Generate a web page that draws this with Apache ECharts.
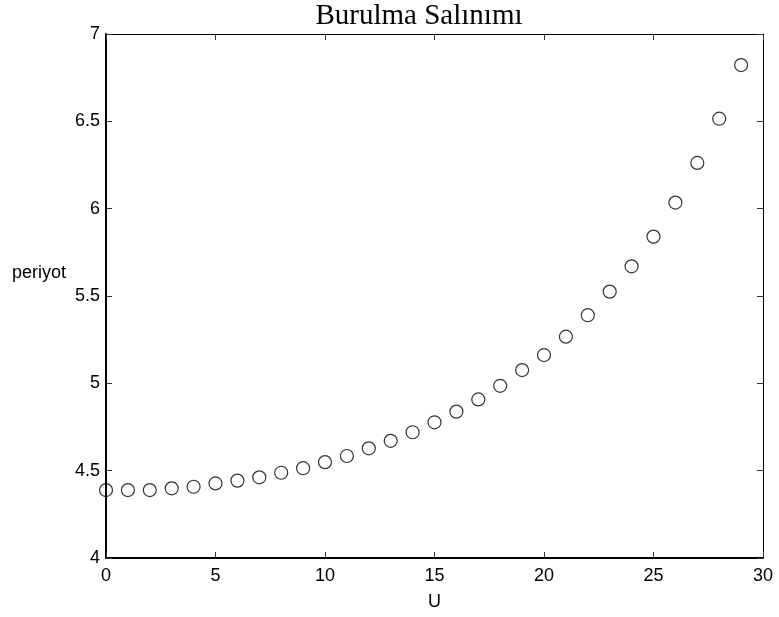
<!DOCTYPE html>
<html>
<head>
<meta charset="utf-8">
<script src="https://cdn.jsdelivr.net/npm/echarts@6/dist/echarts.min.js"></script>
<style>html,body{margin:0;padding:0;background:#fff}#c{width:779px;height:617px}</style>
</head>
<body>
<div id="c"></div>
<script>
const titleText = 'Burulma Salınımı';
const xName = 'U';
const yName = 'periyot';
const uValues = [0,1,2,3,4,5,6,7,8,9,10,11,12,13,14,15,16,17,18,19,20,21,22,23,24,25,26,27,28,29];
const periodValues = [4.389,4.389,4.389,4.399,4.408,4.427,4.443,4.462,4.488,4.514,4.549,4.584,4.628,4.671,4.72,4.777,4.838,4.908,4.986,5.076,5.162,5.267,5.39,5.525,5.67,5.84,6.035,6.262,6.515,6.822];
const xTicks = {min:0, max:30, interval:5};
const yTicks = {min:4, max:7, interval:0.5};

const font = 'Liberation Sans, Arial, Helvetica, sans-serif';
const data = uValues.map((u,i)=>[u, periodValues[i]]);
const chart = echarts.init(document.getElementById('c'), null, {renderer:'canvas'});
chart.setOption({
  animation:false,
  backgroundColor:'#fff',
  title:{text:titleText, left:414, top:-3, textAlign:'center',
    textStyle:{fontFamily:'Liberation Serif, Times New Roman, serif', fontSize:29, fontWeight:'normal', color:'#000'}},
  grid:{left:106, right:16, top:34, bottom:59, containLabel:false, outerBoundsMode:'none'},
  graphic:[{type:'text', left:12, top:264, style:{text:yName, fontFamily:font, fontSize:18, fill:'#000'}}],
  xAxis:[{type:'value', min:xTicks.min, max:xTicks.max, interval:xTicks.interval, position:'bottom',
    name:xName, nameLocation:'middle', nameGap:35,
    nameTextStyle:{fontFamily:font, fontSize:18, color:'#000'},
    axisLine:{show:true, onZero:false, lineStyle:{color:'#000', width:2}},
    axisTick:{show:true, inside:true, length:6, lineStyle:{color:'#333', width:1}},
    axisLabel:{fontFamily:font, fontSize:18, color:'#000', margin:9},
    splitLine:{show:false}},
    {type:'value', min:xTicks.min, max:xTicks.max, interval:xTicks.interval, position:'top',
    axisLine:{show:true, onZero:false, lineStyle:{color:'#000', width:1}},
    axisTick:{show:true, inside:true, length:6, lineStyle:{color:'#333', width:1}},
    axisLabel:{show:false}, splitLine:{show:false}}],
  yAxis:[{type:'value', min:yTicks.min, max:yTicks.max, interval:yTicks.interval, position:'left',
    axisLine:{show:true, onZero:false, lineStyle:{color:'#000', width:2}},
    axisTick:{show:true, inside:true, length:6, lineStyle:{color:'#333', width:1}},
    axisLabel:{fontFamily:font, fontSize:18, color:'#000', margin:6},
    splitLine:{show:false}},
    {type:'value', min:yTicks.min, max:yTicks.max, interval:yTicks.interval, position:'right',
    axisLine:{show:true, onZero:false, lineStyle:{color:'#000', width:1}},
    axisTick:{show:true, inside:true, length:6, lineStyle:{color:'#333', width:1}},
    axisLabel:{show:false}, splitLine:{show:false}}],
  series:[{type:'scatter', xAxisIndex:0, yAxisIndex:0, data:data, symbol:'circle', symbolSize:13,
    itemStyle:{color:'rgba(255,255,255,0)', borderColor:'#000', borderWidth:1.2}}]
});
</script>
</body>
</html>
